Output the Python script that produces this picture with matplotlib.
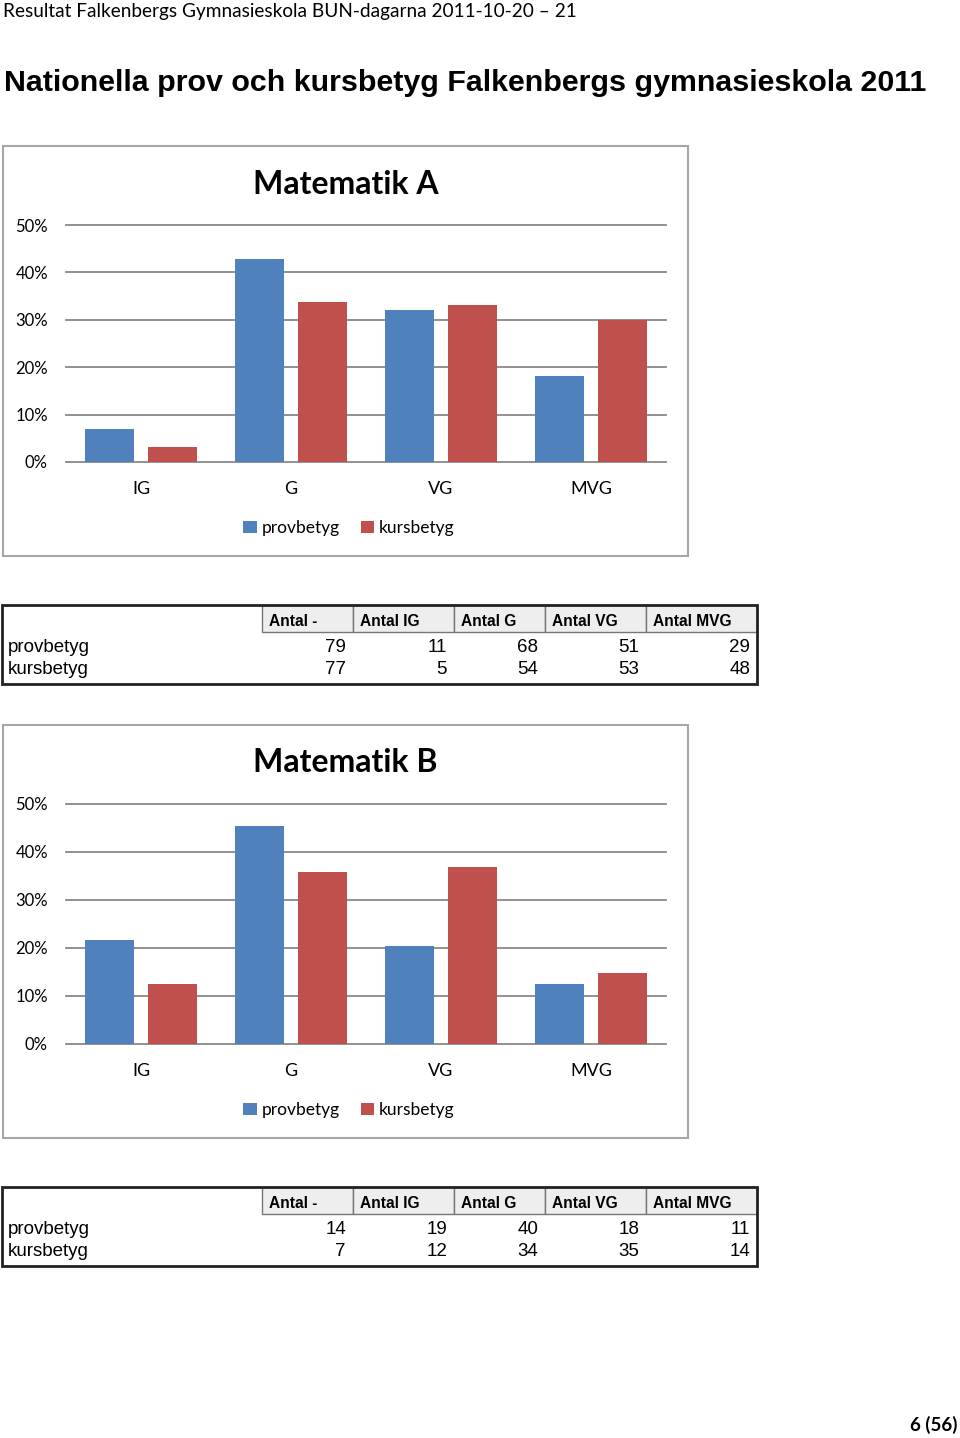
import matplotlib
matplotlib.use('Agg')
import matplotlib.pyplot as plt
from matplotlib.patches import Rectangle

W, H = 960, 1438

categories = ['IG', 'G', 'VG', 'MVG']
series_names = ['provbetyg', 'kursbetyg']
mat_a_prov = [6.9, 42.8, 32.1, 18.2]
mat_a_kurs = [3.1, 33.8, 33.1, 30.0]
mat_b_prov = [21.6, 45.5, 20.5, 12.5]
mat_b_kurs = [12.6, 35.8, 36.8, 14.7]
yticks = [0, 10, 20, 30, 40, 50]
ytick_labels = ['0%', '10%', '20%', '30%', '40%', '50%']
table_cols = ['Antal -', 'Antal IG', 'Antal G', 'Antal VG', 'Antal MVG']
table_a_prov = [79, 11, 68, 51, 29]
table_a_kurs = [77, 5, 54, 53, 48]
table_b_prov = [14, 19, 40, 18, 11]
table_b_kurs = [7, 12, 34, 35, 14]

BLUE = '#4F81BD'
RED = '#C0504D'
GRID = '#888888'
CAL = ['Lato', 'DejaVu Sans']
ARIAL = ['Liberation Sans', 'DejaVu Sans']
NARROW = ['Liberation Sans Narrow', 'Liberation Sans', 'DejaVu Sans']

fig = plt.figure(figsize=(W / 100, H / 100), dpi=100)
bg = fig.add_axes([0, 0, 1, 1])
bg.set_xlim(0, W)
bg.set_ylim(H, 0)
bg.axis('off')

bg.text(3, 12, 'Resultat Falkenbergs Gymnasieskola BUN-dagarna 2011-10-20 \u2013 21',
        family=CAL, fontsize=13.7, va='center', ha='left')
bg.text(4, 83, 'Nationella prov och kursbetyg Falkenbergs gymnasieskola 2011',
        family=ARIAL, fontsize=21.9, fontweight='bold', va='center', ha='left')
bg.text(957, 1425, '6 (56)', family=CAL, fontsize=13.5, fontweight='bold',
        va='center', ha='right')


def pax(x0, y0, x1, y1):
    return fig.add_axes([x0 / W, 1 - y1 / H, (x1 - x0) / W, (y1 - y0) / H])


def chart(box, ytop, ybot, title, prov, kurs, legend_y):
    bx0, by0, bx1, by1 = box
    bg.add_patch(Rectangle((bx0, by0), bx1 - bx0, by1 - by0, fill=False,
                           edgecolor='#a6a6a6', lw=1.5))
    bg.text((bx0 + bx1) / 2, by0 + 38, title, family=CAL, fontsize=23,
            fontweight='bold', ha='center', va='center')
    ax = pax(66, ytop, 666, ybot)
    x = list(range(len(categories)))
    w = 0.333
    b1 = ax.bar([i - 0.21 for i in x], prov, width=w, color=BLUE, zorder=3,
                label=series_names[0])
    b2 = ax.bar([i + 0.21 for i in x], kurs, width=w, color=RED, zorder=3,
                label=series_names[1])
    ax.set_xlim(-0.5, len(categories) - 0.5)
    ax.set_ylim(0, 50)
    for t in yticks:
        ax.axhline(t, color=GRID, lw=1.3, zorder=1, clip_on=False)
    ax.set_yticks(yticks)
    ax.set_yticklabels(ytick_labels, family=CAL, fontsize=12)
    ax.set_xticks(x)
    ax.set_xticklabels(categories, family=CAL, fontsize=13)
    ax.tick_params(axis='y', length=0, pad=13)
    ax.tick_params(axis='x', length=0, pad=14)
    for s in ax.spines.values():
        s.set_visible(False)
    ax.patch.set_alpha(0)
    ax.legend(handles=[b1, b2], loc='center',
              bbox_to_anchor=(349 / W, 1 - (legend_y + 1) / H),
              bbox_transform=fig.transFigure, ncol=2, frameon=False,
              handlelength=0.75, handleheight=0.75, handletextpad=0.3,
              columnspacing=1.2, prop={'family': CAL, 'size': 12.5})


def table(y0, prov, kurs):
    x0, x1 = 2, 757
    hy1 = y0 + 27
    y1 = y0 + 79
    colx = [262, 353, 454, 545, 646, 757]
    for i, name in enumerate(table_cols):
        bg.add_patch(Rectangle((colx[i], y0), colx[i + 1] - colx[i], hy1 - y0,
                               facecolor='#eeeeee', edgecolor='#777777', lw=1))
        bg.text(colx[i] + 7, y0 + 17, name, family=NARROW, fontsize=11.2,
                fontweight='bold', ha='left', va='center')
    bg.add_patch(Rectangle((x0, y0), x1 - x0, y1 - y0, fill=False,
                           edgecolor='#222222', lw=2))
    for row, (label, vals) in enumerate([(series_names[0], prov),
                                         (series_names[1], kurs)]):
        yy = y0 + 43 + row * 22
        bg.text(8, yy, label, family=NARROW, fontsize=13.5, ha='left', va='center')
        for i, v in enumerate(vals):
            bg.text(colx[i + 1] - 7, yy, str(v), family=NARROW, fontsize=13.5,
                    ha='right', va='center')


chart((3, 146, 688, 556), 225, 462, 'Matematik A', mat_a_prov, mat_a_kurs, 527)
table(605, table_a_prov, table_a_kurs)
chart((3, 725, 688, 1138), 804, 1044, 'Matematik B', mat_b_prov, mat_b_kurs, 1109)
table(1187, table_b_prov, table_b_kurs)

fig.savefig('out.png', dpi=100)
